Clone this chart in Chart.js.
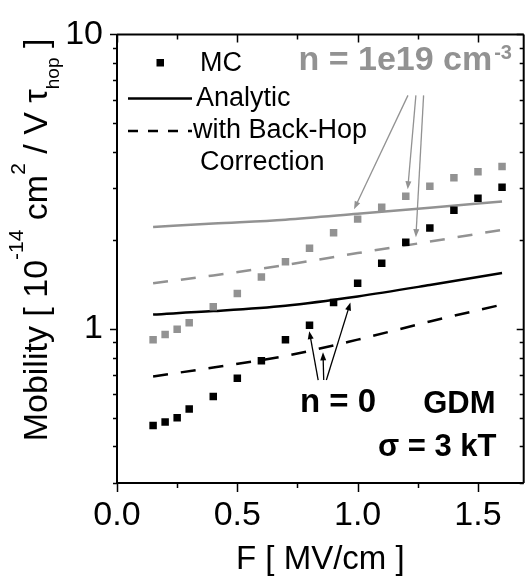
<!DOCTYPE html>
<html><head><meta charset="utf-8">
<script src="https://cdn.jsdelivr.net/npm/chart.js@4.4.1/dist/chart.umd.min.js"></script>
<style>html,body{margin:0;padding:0;background:#fff;overflow:hidden}#wrap{width:529px;height:580px;position:relative}</style>
</head><body><div id="wrap"><canvas id="c" width="529" height="580"></canvas></div>
<script>
// ---- data ----
const fieldMC   = [0.15,0.2,0.25,0.3,0.4,0.5,0.6,0.7,0.8,0.9,1.0,1.1,1.2,1.3,1.4,1.5,1.6];
const mcN0      = [0.47,0.483,0.50,0.535,0.59,0.68,0.78,0.92,1.03,1.23,1.43,1.67,1.97,2.20,2.53,2.78,3.03];
const mcN19     = [0.92,0.957,0.997,1.05,1.19,1.32,1.50,1.69,1.88,2.12,2.36,2.59,2.82,3.05,3.26,3.42,3.56];
const fieldLine = [0.15,0.4,0.7,1.0,1.3,1.6];
const analyticN0  = [1.12,1.15,1.20,1.29,1.41,1.55];
const backHopN0   = [0.69,0.74,0.81,0.92,1.06,1.21];
const analyticN19 = [2.22,2.28,2.35,2.46,2.58,2.71];
const backHopN19  = [1.43,1.52,1.65,1.81,1.98,2.17];
const xTickValues = [0,0.25,0.5,0.75,1.0,1.25,1.5];
const xTickLabels = ['0.0','','0.5','','1.0','','1.5'];
const yTickValues = [0.3,0.4,0.5,0.6,0.7,0.8,0.9,1,2,3,4,5,6,7,8,9,10];
const yTickLabels = {1:'1',10:'10'};
// annotation arrows in data units: [fromF, fromMu, toF, toMu]
const grayArrows  = [[1.209,6.21,0.985,2.55],[1.242,6.21,1.208,2.98],[1.274,6.21,1.242,2.05]];
const blackArrows = [[0.836,0.671,0.799,0.983],[0.859,0.671,0.856,0.833],[0.870,0.671,0.970,1.23]];

const FONT = "'Liberation Sans', Arial, Helvetica, sans-serif";
const GRAY = '#929292';

const pts = (xs, ys) => xs.map((x,i)=>({x:x,y:ys[i]}));

const decor = {
  id:'decor',
  afterDraw(chart){
    const ctx = chart.ctx, a = chart.chartArea, xs = chart.scales.x, ys = chart.scales.y;
    const X = v => xs.getPixelForValue(v), Y = v => ys.getPixelForValue(v);
    ctx.save();
    // frame
    ctx.strokeStyle = '#000'; ctx.lineWidth = 2;
    ctx.beginPath();
    ctx.moveTo(a.left, a.top); ctx.lineTo(a.right, a.top);
    ctx.moveTo(a.left, a.top); ctx.lineTo(a.left, a.bottom); ctx.lineTo(a.right, a.bottom);
    ctx.moveTo(a.right, a.top); ctx.lineTo(a.right, a.bottom);
    ctx.stroke();
    // ticks
    ctx.lineWidth = 1.5;
    ctx.beginPath();
    xTickValues.forEach((v,i)=>{
      const px = Math.round(X(v))+0.5, major = xTickLabels[i] !== '';
      ctx.moveTo(px, a.bottom); ctx.lineTo(px, a.bottom + (major?9:5));
      ctx.moveTo(px, a.top); ctx.lineTo(px, a.top + (major?8:5));
    });
    yTickValues.forEach(v=>{
      const py = Math.round(Y(v))+0.5, major = (v in yTickLabels);
      ctx.moveTo(a.left, py); ctx.lineTo(a.left - (major?7:4), py);
      ctx.moveTo(a.right, py); ctx.lineTo(a.right - (major?7:4), py);
    });
    ctx.stroke();

    // y-axis title
    const segs = [
      ['Mobility [ 10',0,34],['-14',-24,21],[' cm',0,34],['2',-22,21],[' / V ',0,34],['\u03c4',0,34],['hop',12,19],[' ]',0,34]
    ];
    let total = 0;
    segs.forEach(s=>{ctx.font = s[2]+'px '+FONT; total += ctx.measureText(s[0]).width;});
    ctx.save();
    ctx.translate(47, 240);
    ctx.rotate(-Math.PI/2);
    ctx.fillStyle = '#000'; ctx.textBaseline = 'alphabetic'; ctx.textAlign = 'left';
    let cx = -total/2;
    segs.forEach(s=>{ctx.font = s[2]+'px '+FONT; ctx.fillText(s[0], cx, s[1]); cx += ctx.measureText(s[0]).width;});
    ctx.restore();

    // legend
    ctx.fillStyle = '#000';
    ctx.fillRect(a.left+39.5, 59, 7.5, 7.5);
    ctx.strokeStyle = '#000'; ctx.lineWidth = 2.5;
    ctx.beginPath(); ctx.moveTo(a.left+11, 98.5); ctx.lineTo(a.left+75, 98.5); ctx.stroke();
    ctx.setLineDash([10,10]);
    ctx.beginPath(); ctx.moveTo(a.left+11, 131); ctx.lineTo(a.left+75, 131); ctx.stroke();
    ctx.setLineDash([]);
    ctx.font = '27px '+FONT; ctx.textBaseline = 'middle'; ctx.textAlign = 'left';
    ctx.fillText('MC', a.left+83, 64);
    ctx.fillText('Analytic', a.left+79, 99);
    ctx.fillText('with Back-Hop', a.left+76, 131);
    ctx.fillText('Correction', a.left+83, 163);

    // annotations
    ctx.textBaseline = 'alphabetic';
    ctx.fillStyle = GRAY;
    ctx.font = 'bold 34px '+FONT;
    const nTxt = 'n = 1e19 cm';
    ctx.fillText(nTxt, X(0.754), Y(7.59));
    const w = ctx.measureText(nTxt).width;
    ctx.font = 'bold 20px '+FONT;
    ctx.fillText('-3', X(0.754)+w+2, Y(7.59)-11);

    ctx.fillStyle = '#000';
    ctx.font = 'bold 33px '+FONT;
    ctx.fillText('n = 0', X(0.760), Y(0.524));
    ctx.textAlign = 'right';
    ctx.font = 'bold 31px '+FONT;
    ctx.fillText('GDM', X(1.573), Y(0.520));
    ctx.fillText('\u03c3 = 3 kT', X(1.577), Y(0.370));

    const arrow = (ar, color, lw) => {
      const x1 = X(ar[0]), y1 = Y(ar[1]), x2 = X(ar[2]), y2 = Y(ar[3]);
      const ang = Math.atan2(y2-y1, x2-x1), L = 8, H = 3;
      ctx.strokeStyle = color; ctx.fillStyle = color; ctx.lineWidth = lw;
      ctx.beginPath(); ctx.moveTo(x1,y1); ctx.lineTo(x2 - L*Math.cos(ang)*0.8, y2 - L*Math.sin(ang)*0.8); ctx.stroke();
      ctx.beginPath();
      ctx.moveTo(x2,y2);
      ctx.lineTo(x2 - L*Math.cos(ang) + H*Math.sin(ang), y2 - L*Math.sin(ang) - H*Math.cos(ang));
      ctx.lineTo(x2 - L*Math.cos(ang) - H*Math.sin(ang), y2 - L*Math.sin(ang) + H*Math.cos(ang));
      ctx.closePath(); ctx.fill();
    };
    grayArrows.forEach(ar=>arrow(ar, GRAY, 1.3));
    blackArrows.forEach(ar=>arrow(ar, '#000', 1.3));
    ctx.restore();
  }
};

new Chart(document.getElementById('c'), {
  type: 'scatter',
  data: {
    datasets: [
      {label:'MC n=0', data: pts(fieldMC, mcN0), pointStyle:'rect', pointRadius:5.3, backgroundColor:'#000', borderWidth:0, showLine:false},
      {label:'MC n=1e19', data: pts(fieldMC, mcN19), pointStyle:'rect', pointRadius:5.3, backgroundColor:GRAY, borderWidth:0, showLine:false},
      {label:'Analytic n=0', data: pts(fieldLine, analyticN0), showLine:true, borderColor:'#000', borderWidth:2.5, pointRadius:0, tension:0.4, cubicInterpolationMode:'monotone'},
      {label:'Back-hop n=0', data: pts(fieldLine, backHopN0), showLine:true, borderColor:'#000', borderWidth:2.5, borderDash:[15,13], pointRadius:0, tension:0.4, cubicInterpolationMode:'monotone'},
      {label:'Analytic n=1e19', data: pts(fieldLine, analyticN19), showLine:true, borderColor:GRAY, borderWidth:2.5, pointRadius:0, tension:0.4, cubicInterpolationMode:'monotone'},
      {label:'Back-hop n=1e19', data: pts(fieldLine, backHopN19), showLine:true, borderColor:GRAY, borderWidth:2.5, borderDash:[15,13], pointRadius:0, tension:0.4, cubicInterpolationMode:'monotone'}
    ]
  },
  options: {
    responsive:false, animation:false, devicePixelRatio:1,
    layout:{padding:{top:30,right:-2,left:0,bottom:0}},
    plugins:{legend:{display:false}, tooltip:{enabled:false}},
    scales:{
      x:{type:'linear', min:0, max:1.69,
        grid:{display:false, drawTicks:false}, border:{display:false},
        title:{display:true, text:'F [ MV/cm ]', color:'#000', font:{family:FONT, size:33}, padding:{top:0, bottom:0}},
        afterBuildTicks(s){ s.ticks = xTickValues.map(v=>({value:v})); },
        afterFit(s){ s.height = 97; },
        ticks:{autoSkip:false, maxRotation:0, padding:12, color:'#000', font:{family:FONT, size:34},
          callback(v){ const i = xTickValues.indexOf(v); return i>=0 ? xTickLabels[i] : ''; }}
      },
      y:{type:'logarithmic', min:0.3, max:10,
        grid:{display:false, drawTicks:false}, border:{display:false},
        afterBuildTicks(s){ s.ticks = yTickValues.map(v=>({value:v})); },
        afterFit(s){ s.width = 117; },
        ticks:{autoSkip:false, padding:14, color:'#000', font:{family:FONT, size:34},
          callback(v){ return yTickLabels[v] || ''; }}
      }
    }
  },
  plugins:[decor]
});
</script></body></html>
